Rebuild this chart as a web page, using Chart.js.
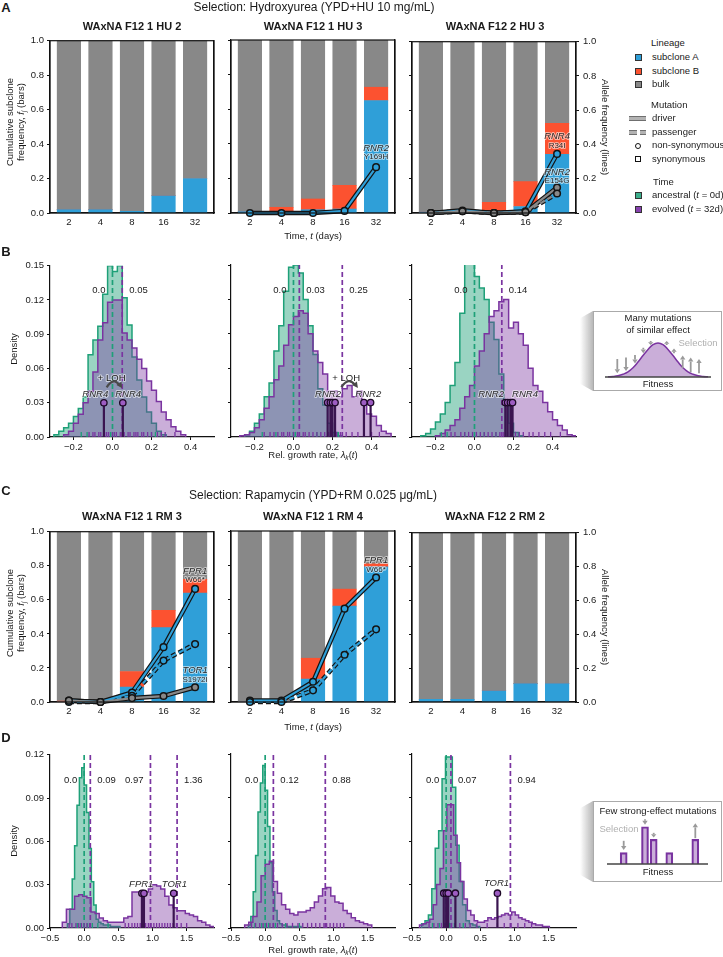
<!DOCTYPE html>
<html>
<head>
<meta charset="utf-8">
<title>Subclone dynamics under selection</title>
<script src="https://cdn.jsdelivr.net/npm/chart.js@4.4.1/dist/chart.umd.min.js"></script>
<style>
  body { margin: 0; background: #fff; }
  #page { position: relative; width: 723px; height: 957px; overflow: hidden; font-family: "Liberation Sans", Arial, Helvetica, sans-serif; color: #1a1a1a; }
  #page canvas { position: absolute; }
  .txt { position: absolute; white-space: nowrap; line-height: 1.2; text-align: center; }
  .txt sub { font-size: 70%; vertical-align: -0.3em; line-height: 0; }
  .sw { position: absolute; box-sizing: border-box; }
</style>
</head>
<body>
<div id="page"></div>
<script>
// ---- tick labels ----
const days = ['2', '4', '8', '16', '32'];
const fracTicks = [0, 0.2, 0.4, 0.6, 0.8, 1.0];
const growthTicksB = [-0.2, 0, 0.2, 0.4];
const growthTicksD = [-0.5, 0, 0.5, 1.0, 1.5];
const densTicksB = [0, 0.03, 0.06, 0.09, 0.12, 0.15];
const densTicksD = [0, 0.03, 0.06, 0.09, 0.12];

// ---- A: hydroxyurea, subclone frequencies (bars) and allele frequencies (lines) ----
const hu12A = [0.02, 0.02, 0.01, 0.10, 0.20];
const hu12B = [0, 0, 0, 0, 0];
const hu12Bulk = [0.98, 0.98, 0.99, 0.90, 0.80];

const hu13A = [0.008, 0.01, 0.019, 0.023, 0.65];
const hu13B = [0, 0.023, 0.062, 0.137, 0.077];
const hu13Bulk = [0.992, 0.967, 0.919, 0.84, 0.273];
const hu13Rnr2 = [0, 0, 0, 0.012, 0.265];

const hu23A = [0.005, 0.01, 0.01, 0.038, 0.342];
const hu23B = [0, 0, 0.052, 0.145, 0.181];
const hu23Bulk = [0.995, 0.99, 0.938, 0.817, 0.477];
const hu23Rnr4 = [0, 0.015, 0, 0.01, 0.345];
const hu23Rnr2 = [0, 0.01, 0, 0.005, 0.149];
const hu23Pass = [0, 0.01, 0, 0.005, 0.114];

// ---- C: rapamycin ----
const rm13A = [0, 0, 0.087, 0.437, 0.639];
const rm13B = [0.006, 0, 0.092, 0.101, 0.081];
const rm13Bulk = [0.994, 1, 0.821, 0.462, 0.28];
const rm13Fpr1 = [0.008, 0, 0.056, 0.322, 0.664];
const rm13Pass = [0, 0, 0.037, 0.243, 0.34];
const rm13Tor1 = [0.008, 0, 0.023, 0.035, 0.087];

const rm14A = [0, 0, 0.134, 0.561, 0.79];
const rm14B = [0, 0, 0.122, 0.099, 0.018];
const rm14Bulk = [1, 1, 0.744, 0.34, 0.192];
const rm14Fpr1 = [0.008, 0.008, 0.118, 0.546, 0.728];
const rm14Pass = [0, 0, 0.068, 0.276, 0.425];

const rm22A = [0.016, 0.016, 0.066, 0.109, 0.109];
const rm22B = [0, 0, 0, 0, 0];
const rm22Bulk = [0.984, 0.984, 0.934, 0.891, 0.891];

// ---- B: growth-rate histograms (density per bin), hydroxyurea ----
const hu12AncStart = -0.30;
const hu12Anc = [0.002, 0.005, 0.008, 0.012, 0.018, 0.025, 0.035, 0.072, 0.085, 0.097, 0.125, 0.15, 0.145, 0.15, 0.122, 0.098, 0.07, 0.05, 0.035, 0.022, 0.012, 0.005, 0.002];
const hu12EvoStart = -0.25;
const hu12Evo = [0.002, 0.005, 0.012, 0.02, 0.03, 0.04, 0.057, 0.085, 0.1, 0.118, 0.12, 0.12, 0.091, 0.085, 0.078, 0.068, 0.06, 0.049, 0.041, 0.031, 0.022, 0.015, 0.009, 0.005, 0.002];
const hu13AncStart = -0.25;
const hu13Anc = [0.002, 0.005, 0.012, 0.02, 0.035, 0.047, 0.075, 0.097, 0.127, 0.148, 0.15, 0.143, 0.12, 0.097, 0.072, 0.042, 0.028, 0.012, 0.004, 0.001];
const hu13EvoStart = -0.275;
const hu13Evo = [0.001, 0.002, 0.004, 0.008, 0.015, 0.025, 0.035, 0.05, 0.062, 0.08, 0.098, 0.105, 0.11, 0.108, 0.09, 0.075, 0.065, 0.055, 0.04, 0.04, 0.035, 0.042, 0.045, 0.035, 0.04, 0.03, 0.02, 0.018, 0.01, 0.005, 0.003];
const hu23AncStart = -0.275;
const hu23Anc = [0.001, 0.003, 0.007, 0.013, 0.02, 0.03, 0.045, 0.065, 0.108, 0.16, 0.158, 0.14, 0.13, 0.12, 0.10, 0.085, 0.055, 0.032, 0.012, 0.004, 0.001];
const hu23EvoStart = -0.20;
const hu23Evo = [0.001, 0.003, 0.006, 0.01, 0.015, 0.025, 0.035, 0.045, 0.062, 0.075, 0.09, 0.105, 0.11, 0.118, 0.12, 0.095, 0.1, 0.09, 0.08, 0.06, 0.045, 0.04, 0.03, 0.022, 0.015, 0.01, 0.006, 0.002, 0.001];

// ---- D: growth-rate histograms, rapamycin ----
const rm13AncStart = -0.245;
const rm13Anc = [0.003, 0.013, 0.034, 0.057, 0.085, 0.104, 0.111, 0.099, 0.08, 0.055, 0.032, 0.016, 0.006, 0.004, 0.003, 0.002, 0.002, 0.002, 0.001, 0.001, 0.001, 0.001];
const rm13EvoStart = -0.32;
const rm13Evo = [0.004, 0.013, 0.013, 0.022, 0.023, 0.022, 0.021, 0.011, 0.01, 0.007, 0.005, 0.004, 0.004, 0.004, 0.004, 0.007, 0.008, 0.025, 0.025, 0.024, 0.025, 0.027, 0.03, 0.029, 0.027, 0.022, 0.016, 0.014, 0.012, 0.012, 0.01, 0.009, 0.008, 0.005, 0.004, 0.002, 0.001];
const rm14AncStart = -0.245;
const rm14Anc = [0.002, 0.008, 0.025, 0.05, 0.08, 0.1, 0.112, 0.095, 0.07, 0.045, 0.025, 0.012, 0.005, 0.003, 0.002, 0.002, 0.001, 0.001, 0.001, 0.001, 0.001, 0.001];
const rm14EvoStart = -0.30;
const rm14Evo = [0.002, 0.004, 0.008, 0.018, 0.036, 0.044, 0.046, 0.032, 0.024, 0.016, 0.013, 0.01, 0.009, 0.011, 0.011, 0.012, 0.014, 0.018, 0.022, 0.027, 0.028, 0.022, 0.018, 0.017, 0.012, 0.01, 0.007, 0.005, 0.004, 0.003, 0.002];
const rm22AncStart = -0.36;
const rm22Anc = [0.003, 0.005, 0.009, 0.027, 0.055, 0.067, 0.103, 0.118, 0.118, 0.097, 0.057, 0.032, 0.016, 0.005, 0.003, 0.002, 0.001];
const rm22EvoStart = -0.39;
const rm22Evo = [0.002, 0.003, 0.004, 0.006, 0.016, 0.03, 0.041, 0.067, 0.085, 0.085, 0.064, 0.045, 0.032, 0.02, 0.012, 0.009, 0.005, 0.004, 0.004, 0.005, 0.007, 0.006, 0.007, 0.008, 0.009, 0.01, 0.009, 0.011, 0.009, 0.007, 0.006, 0.005, 0.004, 0.003, 0.002, 0.002, 0.001, 0.001];

// mean growth rates (first = ancestral)
const hu12Means = [0.0, 0.05];
const hu13Means = [0.0, 0.03, 0.25];
const hu23Means = [0.0, 0.14];
const rm13Means = [0.0, 0.09, 0.97, 1.36];
const rm14Means = [0.0, 0.12, 0.88];
const rm22Means = [0.0, 0.07, 0.94];

// clones carrying driver mutations
const hu12Stems = [-0.044, 0.053];
const hu13Stems = [0.175, 0.189, 0.2, 0.213, 0.361, 0.395];
const hu23Stems = [0.158, 0.17, 0.184, 0.195];
const rm13Stems = [0.845, 0.875, 1.31];
const rm22Stems = [-0.035, 0.0, 0.03, 0.135, 0.75];

// rug marks (individual clones)
const hu12RugAnc = [-0.16, -0.13, -0.01, 0.2, 0.22];
const hu12RugEvo = [-0.12, -0.1, -0.09, -0.07, -0.06, -0.04, -0.03, -0.02, 0.0, 0.01, 0.02, 0.04, 0.05, 0.06, 0.08, 0.09, 0.11, 0.12, 0.13, 0.15, 0.16, 0.18, 0.2, 0.23, 0.25, 0.27, 0.32];
const hu13RugAnc = [-0.16, -0.09, 0.0, 0.01, 0.12, 0.2, 0.23];
const hu13RugEvo = [-0.15, -0.12, -0.1, -0.08, -0.06, -0.05, -0.03, -0.02, 0, 0.02, 0.03, 0.05, 0.06, 0.08, 0.1, 0.12, 0.14, 0.16, 0.18, 0.2, 0.22, 0.24, 0.27, 0.3, 0.33, 0.36, 0.4, 0.44];
const hu23RugAnc = [-0.17, -0.14, -0.05, 0.05, 0.11, 0.21];
const hu23RugEvo = [-0.15, -0.12, -0.1, -0.07, -0.05, -0.03, -0.01, 0.01, 0.03, 0.05, 0.07, 0.09, 0.11, 0.13, 0.15, 0.17, 0.19, 0.21, 0.23, 0.25, 0.28, 0.3, 0.33, 0.36, 0.39, 0.44];
const rm13RugAnc = [-0.1, -0.05, 0.0, 0.05, 0.12, 0.2, 0.35];
const rm13RugEvo = [-0.22, -0.18, -0.12, -0.08, -0.04, 0.0, 0.04, 0.08, 0.6, 0.65, 0.7, 0.74, 0.78, 0.82, 0.86, 0.9, 0.94, 0.98, 1.02, 1.06, 1.1, 1.14, 1.18, 1.22, 1.26, 1.3, 1.35, 1.42, 1.5];
const rm14RugAnc = [-0.15, -0.05, 0.05, 0.15, 0.3, 0.5];
const rm14RugEvo = [-0.2, -0.14, -0.08, -0.03, 0.02, 0.07, 0.12, 0.18, 0.25, 0.32, 0.4, 0.48, 0.55, 0.62, 0.68, 0.74, 0.8, 0.86, 0.9, 0.95, 1.0, 1.05, 1.1, 1.15];
const rm22RugAnc = [-0.2, -0.1, -0.03, 0.05, 0.12, 0.25];
const rm22RugEvo = [-0.25, -0.18, -0.12, -0.07, -0.02, 0.03, 0.08, 0.13, 0.2, 0.28, 0.35, 0.45, 0.6, 0.75, 0.85, 0.95, 1.05, 1.15, 1.25];

// insets (schematics)
const manyX = [0, 0.05, 0.1, 0.15, 0.2, 0.25, 0.3, 0.35, 0.4, 0.45, 0.5, 0.55, 0.6, 0.65, 0.7, 0.75, 0.8, 0.85, 0.9, 0.95, 1.0];
const manyY = [0.005, 0.015, 0.036, 0.08, 0.15, 0.27, 0.44, 0.63, 0.81, 0.95, 1.0, 0.95, 0.81, 0.63, 0.44, 0.27, 0.15, 0.08, 0.036, 0.015, 0.005];
const manyArrowX = [0.093, 0.18, 0.27, 0.353, 0.427, 0.587, 0.66, 0.747, 0.827, 0.91];
const manyArrowFrom = [0.53, 0.57, 0.65, 0.86, 1.06, 0.94, 0.70, 0.26, 0.14, 0.11];
const manyArrowTo = [0.11, 0.18, 0.40, 0.70, 0.94, 1.06, 0.84, 0.63, 0.57, 0.53];
const fewX = [0.157, 0.37, 0.457, 0.613, 0.873];
const fewH = [0.3, 0.98, 0.65, 0.3, 0.65];
const fewArrowX = [0.157, 0.37, 0.457, 0.873];
const fewArrowFrom = [0.61, 1.18, 0.82, 0.68];
const fewArrowTo = [0.37, 1.03, 0.70, 1.07];

// ---- styling ----
const page = document.getElementById('page');
const FONT = '"Liberation Sans", Arial, Helvetica, sans-serif';
Chart.defaults.font.family = FONT;
Chart.defaults.font.size = 9.5;
Chart.defaults.color = '#1a1a1a';

const C_A = '#2f9fd8', C_B = '#fc5230', C_BULK = '#888888';
const C_ANC = 'rgb(30,160,120)', F_ANC = 'rgba(30,160,120,0.45)';
const C_EVO = 'rgb(122,52,160)', F_EVO = 'rgba(122,52,160,0.4)';
const C_STEM = '#3a1450', C_HEAD = '#9d5cc2';

const M = {l: 45, r: 35, t: 8, b: 22};
const PW = 164;
const cols = [50, 231, 412];

function canvasAt(x, y, w, h) {
    const cv = document.createElement('canvas');
    cv.width = w + M.l + M.r;
    cv.height = h + M.t + M.b;
    cv.style.left = (x - M.l) + 'px';
    cv.style.top = (y - M.t) + 'px';
    page.appendChild(cv);
    return cv;
}

function plainCanvas(x, y, w, h) {
    const cv = document.createElement('canvas');
    cv.width = w;
    cv.height = h;
    cv.style.left = x + 'px';
    cv.style.top = y + 'px';
    page.appendChild(cv);
    return cv;
}

const fixedTicks = values => scale => { scale.ticks = values.map(v => ({value: v})); };
const signed = v => (v < 0 ? '\u2212' : '') + Math.abs(v).toFixed(1);
const border = {display: true, color: '#111', width: 1.2};
const tickGrid = show => ({display: true, drawOnChartArea: false, drawTicks: show, tickLength: 3, color: '#111', lineWidth: 1});

function notesPlugin(items, yAxis) {
    return {
        id: 'notes',
        afterDatasetsDraw(chart) {
            const ctx = chart.ctx, xs = chart.scales.x, ys = chart.scales[yAxis || 'y'];
            items.forEach(n => {
                const px = xs.getPixelForValue(n.x) + (n.dx || 0);
                const py = ys.getPixelForValue(n.y);
                ctx.save();
                ctx.font = n.font || `9.5px ${FONT}`;
                ctx.textAlign = n.align || 'center';
                ctx.textBaseline = 'middle';
                if (n.halo) {
                    ctx.lineJoin = 'round';
                    ctx.lineWidth = 2;
                    ctx.strokeStyle = 'rgba(255,255,255,0.55)';
                    ctx.strokeText(n.text, px, py);
                }
                ctx.fillStyle = n.color || '#1a1a1a';
                ctx.fillText(n.text, px, py);
                ctx.restore();
            });
        }
    };
}

function loopPlugin(list) {
    return {
        id: 'loh',
        afterDatasetsDraw(chart) {
            const {ctx, scales: {x, y}} = chart;
            list.forEach(a => {
                const x1 = x.getPixelForValue(a.x1), x2 = x.getPixelForValue(a.x2), py = y.getPixelForValue(a.y);
                const cx = (x1 + x2) / 2, cy = py - 11;
                ctx.save();
                ctx.strokeStyle = '#4a4a4a';
                ctx.fillStyle = '#4a4a4a';
                ctx.lineWidth = 2.2;
                ctx.beginPath();
                ctx.moveTo(x1, py);
                ctx.quadraticCurveTo(cx, cy, x2 - 2, py - 2);
                ctx.stroke();
                const ang = Math.atan2(py - cy, x2 - cx);
                const tx = x2 + 1, ty = py + 1;
                ctx.beginPath();
                ctx.moveTo(tx, ty);
                ctx.lineTo(tx - 6 * Math.cos(ang) + 3 * Math.sin(ang), ty - 6 * Math.sin(ang) - 3 * Math.cos(ang));
                ctx.lineTo(tx - 6 * Math.cos(ang) - 3 * Math.sin(ang), ty - 6 * Math.sin(ang) + 3 * Math.cos(ang));
                ctx.closePath();
                ctx.fill();
                ctx.restore();
            });
        }
    };
}

function arrowsPlugin(xs, from, to) {
    return {
        id: 'arrows',
        afterDatasetsDraw(chart) {
            const {ctx, scales: {x, y}} = chart;
            ctx.save();
            ctx.strokeStyle = '#9a9a9a';
            ctx.fillStyle = '#9a9a9a';
            ctx.lineWidth = 1.8;
            xs.forEach((v, i) => {
                const px = x.getPixelForValue(v), y1 = y.getPixelForValue(from[i]), y2 = y.getPixelForValue(to[i]);
                const dir = Math.sign(y2 - y1);
                const head = Math.min(4, Math.abs(y2 - y1) * 0.7);
                ctx.beginPath();
                ctx.moveTo(px, y1);
                ctx.lineTo(px, y2 - dir * head);
                ctx.stroke();
                ctx.beginPath();
                ctx.moveTo(px - 2.7, y2 - dir * head);
                ctx.lineTo(px + 2.7, y2 - dir * head);
                ctx.lineTo(px, y2);
                ctx.closePath();
                ctx.fill();
            });
            ctx.restore();
        }
    };
}

const framePlugin = {
    id: 'frame',
    afterDraw(chart) {
        const {ctx, chartArea: a} = chart;
        ctx.save();
        ctx.strokeStyle = '#111';
        ctx.lineWidth = 1.2;
        ctx.strokeRect(a.left, a.top, a.right - a.left, a.bottom - a.top);
        ctx.restore();
    }
};

const gene = (x, y, t) => ({x, y, text: t, font: `italic 9.5px ${FONT}`, color: '#2a2a2a', halo: true});
const change = (x, y, t) => ({x, y, text: t, font: `8px ${FONT}`, color: '#2a2a2a', halo: true});

// ---- bar panels (A, C) ----
function barPanel(o) {
    const cv = canvasAt(o.x, o.y, PW, o.h);
    const xy = vals => vals.map((v, i) => ({x: i, y: v}));
    const bar = (label, vals, color) => ({
        type: 'bar', label, data: xy(vals), backgroundColor: color, borderWidth: 0,
        barThickness: 23.5, stack: 'f', yAxisID: 'y', order: 10
    });
    const datasets = [bar('subclone A', o.a, C_A), bar('subclone B', o.b, C_B), bar('bulk', o.bulk, C_BULK)];
    o.muts.forEach(m => {
        const dash = m.passenger ? [5, 3] : [];
        datasets.push({type: 'line', data: xy(m.v), yAxisID: 'y2', borderColor: '#141414', borderWidth: 4.6,
            borderDash: dash, pointRadius: 0, clip: false, order: 6});
        datasets.push({type: 'line', data: xy(m.v), yAxisID: 'y2', borderColor: m.color, borderWidth: 2.2,
            borderDash: dash, pointRadius: 3.3, pointBorderWidth: 1.5, pointBorderColor: '#141414',
            pointBackgroundColor: m.color, clip: false, order: 5});
    });
    new Chart(cv, {
        type: 'bar',
        data: {datasets},
        options: {
            responsive: false, animation: false, events: [],
            layout: {padding: {top: M.t}},
            plugins: {legend: {display: false}, tooltip: {enabled: false}},
            scales: {
                x: {type: 'linear', min: -0.6, max: 4.6, offset: false, stacked: true, border,
                    grid: {display: true, drawOnChartArea: false, drawTicks: false, offset: false},
                    ticks: {padding: 4, callback: v => days[v]},
                    afterBuildTicks: fixedTicks(days.map((d, i) => i)),
                    afterFit: s => { s.height = M.b; }},
                y: {type: 'linear', position: 'left', min: 0, max: 1, stacked: true, border, grid: tickGrid(true),
                    ticks: {display: o.left, padding: 3, callback: v => v.toFixed(1)},
                    afterBuildTicks: fixedTicks(fracTicks),
                    afterFit: s => { s.width = M.l; }},
                y2: {type: 'linear', position: 'right', min: 0, max: 1, border, grid: tickGrid(o.right),
                    ticks: {display: o.right, padding: 4, callback: v => v.toFixed(1)},
                    afterBuildTicks: fixedTicks(fracTicks),
                    afterFit: s => { s.width = M.r; }}
            }
        },
        plugins: [framePlugin, notesPlugin(o.notes || [], 'y2')]
    });
}

// ---- histogram panels (B, D) ----
function steps(start, bin, heights) {
    const pts = [{x: start, y: 0}];
    heights.forEach((h, i) => pts.push({x: start + i * bin, y: h}));
    pts.push({x: start + heights.length * bin, y: 0});
    return pts;
}

function histPanel(o) {
    const cv = canvasAt(o.x, o.y, PW, o.h);
    const ds = [];
    ds.push({data: steps(o.ancStart, o.ancBin, o.anc), stepped: true, borderColor: C_ANC, backgroundColor: F_ANC,
        fill: 'origin', borderWidth: 1.5, pointRadius: 0, order: 10});
    ds.push({data: steps(o.evoStart, o.evoBin, o.evo), stepped: true, borderColor: C_EVO, backgroundColor: F_EVO,
        fill: 'origin', borderWidth: 1.5, pointRadius: 0, order: 9});
    o.means.forEach((m, i) => ds.push({data: [{x: m, y: 0}, {x: m, y: o.ymax}], borderColor: i === 0 ? C_ANC : C_EVO,
        borderDash: [5, 3], borderWidth: 1.7, pointRadius: 0, order: 6}));
    const rugY = o.ymax * 2.5 / o.h;
    ds.push({data: o.rugAnc.map(v => ({x: v, y: rugY})), showLine: false, pointStyle: 'line', rotation: 90,
        pointRadius: 2.6, pointBorderColor: C_ANC, pointBorderWidth: 1.3, order: 5});
    ds.push({data: o.rugEvo.map(v => ({x: v, y: rugY})), showLine: false, pointStyle: 'line', rotation: 90,
        pointRadius: 2.6, pointBorderColor: C_EVO, pointBorderWidth: 1.3, order: 4});
    if (o.stems.length) {
        const seg = [];
        o.stems.forEach(s => seg.push({x: s, y: 0}, {x: s, y: o.stemH}, {x: s, y: null}));
        ds.push({data: seg, borderColor: C_STEM, borderWidth: 2.2, pointRadius: 0, spanGaps: false, order: 3});
        ds.push({data: o.stems.map(s => ({x: s, y: o.stemH})), showLine: false, pointRadius: 3.2,
            pointBackgroundColor: C_HEAD, pointBorderColor: '#1c0826', pointBorderWidth: 1.3, order: 2});
    }
    const notes = o.means.map((m, i) => ({
        x: m, y: o.labelY, text: m === 0 ? '0.0' : String(m),
        align: o.sides[i] === 'l' ? 'right' : 'left', dx: o.sides[i] === 'l' ? -7 : 7
    })).concat(o.notes || []);
    new Chart(cv, {
        type: 'line',
        data: {datasets: ds},
        options: {
            responsive: false, animation: false, events: [],
            layout: {padding: {top: M.t, right: M.r}},
            plugins: {legend: {display: false}, tooltip: {enabled: false}},
            scales: {
                x: {type: 'linear', min: o.xmin, max: o.xmax, border, grid: tickGrid(true),
                    ticks: {padding: 2, callback: v => signed(v)},
                    afterBuildTicks: fixedTicks(o.xticks),
                    afterFit: s => { s.height = M.b; }},
                y: {type: 'linear', min: 0, max: o.ymax, border, grid: tickGrid(true),
                    ticks: {display: o.left, padding: 3, callback: v => v.toFixed(2)},
                    afterBuildTicks: fixedTicks(o.yticks),
                    afterFit: s => { s.width = M.l; }}
            }
        },
        plugins: [notesPlugin(notes), loopPlugin(o.loops || [])]
    });
}

// ---- HTML text and legend helpers ----
function text(html, x, y, size, opts = {}) {
    const d = document.createElement('div');
    d.className = 'txt';
    d.innerHTML = html;
    d.style.left = x + 'px';
    d.style.top = y + 'px';
    d.style.fontSize = size + 'px';
    if (opts.bold) d.style.fontWeight = 'bold';
    if (opts.color) d.style.color = opts.color;
    const anchor = opts.left ? 'translate(0,-50%)' : 'translate(-50%,-50%)';
    d.style.transform = anchor + (opts.rot ? ` rotate(${opts.rot}deg)` : '');
    page.appendChild(d);
}

function box(x, y, w, h, css) {
    const d = document.createElement('div');
    d.className = 'sw';
    d.style.cssText = `left:${x}px;top:${y}px;width:${w}px;height:${h}px;${css}`;
    page.appendChild(d);
}

// ---- row A ----
const rowA = 40, hA = 173;
barPanel({x: cols[0], y: rowA, h: hA, a: hu12A, b: hu12B, bulk: hu12Bulk, muts: [], left: true, right: false});
barPanel({x: cols[1], y: rowA, h: hA, a: hu13A, b: hu13B, bulk: hu13Bulk, left: false, right: false,
    muts: [{v: hu13Rnr2, color: C_A}],
    notes: [gene(4, 0.374, 'RNR2'), change(4, 0.325, 'Y169H')]});
barPanel({x: cols[2], y: rowA, h: hA, a: hu23A, b: hu23B, bulk: hu23Bulk, left: false, right: true,
    muts: [{v: hu23Pass, color: C_BULK, passenger: true}, {v: hu23Rnr2, color: C_BULK}, {v: hu23Rnr4, color: C_A}],
    notes: [gene(4, 0.45, 'RNR4'), change(4, 0.395, 'R34I'), gene(4, 0.24, 'RNR2'), change(4, 0.187, 'E154G')]});

// ---- row B ----
const rowB = 265, hB = 172;
const histB = {h: hB, xmin: -0.32, xmax: 0.52, xticks: growthTicksB, ymax: 0.15, yticks: densTicksB,
    ancBin: 0.025, evoBin: 0.025, stemH: 0.03, labelY: 0.128};
histPanel(Object.assign({}, histB, {x: cols[0], y: rowB, left: true,
    ancStart: hu12AncStart, anc: hu12Anc, evoStart: hu12EvoStart, evo: hu12Evo,
    means: hu12Means, sides: ['l', 'r'], stems: hu12Stems, rugAnc: hu12RugAnc, rugEvo: hu12RugEvo,
    notes: [gene(-0.088, 0.0376, 'RNR4'), gene(0.08, 0.0376, 'RNR4'), {x: -0.004, y: 0.0515, text: '+ LOH', halo: true}],
    loops: [{x1: -0.03, x2: 0.045, y: 0.0435}]}));
histPanel(Object.assign({}, histB, {x: cols[1], y: rowB, left: false,
    ancStart: hu13AncStart, anc: hu13Anc, evoStart: hu13EvoStart, evo: hu13Evo,
    means: hu13Means, sides: ['l', 'r', 'r'], stems: hu13Stems, rugAnc: hu13RugAnc, rugEvo: hu13RugEvo,
    notes: [gene(0.177, 0.0376, 'RNR2'), gene(0.383, 0.0376, 'RNR2'), {x: 0.27, y: 0.0515, text: '+ LOH', halo: true}],
    loops: [{x1: 0.245, x2: 0.325, y: 0.0435}]}));
histPanel(Object.assign({}, histB, {x: cols[2], y: rowB, left: false,
    ancStart: hu23AncStart, anc: hu23Anc, evoStart: hu23EvoStart, evo: hu23Evo,
    means: hu23Means, sides: ['l', 'r'], stems: hu23Stems, rugAnc: hu23RugAnc, rugEvo: hu23RugEvo,
    notes: [gene(0.085, 0.0376, 'RNR2'), gene(0.259, 0.0376, 'RNR4')]}));

// ---- row C ----
const rowC = 531, hC = 171;
barPanel({x: cols[0], y: rowC, h: hC, a: rm13A, b: rm13B, bulk: rm13Bulk, left: true, right: false,
    muts: [{v: rm13Tor1, color: C_BULK}, {v: rm13Pass, color: C_A, passenger: true}, {v: rm13Fpr1, color: C_A}],
    notes: [gene(4, 0.77, 'FPR1'), change(4, 0.715, 'W66*'), gene(4, 0.187, 'TOR1'), change(4, 0.13, 'S1972I')]});
barPanel({x: cols[1], y: rowC, h: hC, a: rm14A, b: rm14B, bulk: rm14Bulk, left: false, right: false,
    muts: [{v: rm14Pass, color: C_A, passenger: true}, {v: rm14Fpr1, color: C_A}],
    notes: [gene(4, 0.83, 'FPR1'), change(4, 0.775, 'W66*')]});
barPanel({x: cols[2], y: rowC, h: hC, a: rm22A, b: rm22B, bulk: rm22Bulk, muts: [], left: false, right: true});

// ---- row D ----
const rowD = 754, hD = 174;
const histD = {h: hD, xmin: -0.5, xmax: 1.9, xticks: growthTicksD, ymax: 0.12, yticks: densTicksD,
    stemH: 0.024, labelY: 0.102};
histPanel(Object.assign({}, histD, {x: cols[0], y: rowD, left: true,
    ancStart: rm13AncStart, ancBin: 0.035, anc: rm13Anc, evoStart: rm13EvoStart, evoBin: 0.06, evo: rm13Evo,
    means: rm13Means, sides: ['l', 'r', 'l', 'r'], stems: rm13Stems, rugAnc: rm13RugAnc, rugEvo: rm13RugEvo,
    notes: [gene(0.835, 0.030, 'FPR1'), gene(1.32, 0.030, 'TOR1')]}));
histPanel(Object.assign({}, histD, {x: cols[1], y: rowD, left: false,
    ancStart: rm14AncStart, ancBin: 0.035, anc: rm14Anc, evoStart: rm14EvoStart, evoBin: 0.06, evo: rm14Evo,
    means: rm14Means, sides: ['l', 'r', 'r'], stems: [], rugAnc: rm14RugAnc, rugEvo: rm14RugEvo}));
histPanel(Object.assign({}, histD, {x: cols[2], y: rowD, left: false,
    ancStart: rm22AncStart, ancBin: 0.05, anc: rm22Anc, evoStart: rm22EvoStart, evoBin: 0.05, evo: rm22Evo,
    means: rm22Means, sides: ['l', 'r', 'r'], stems: rm22Stems, rugAnc: rm22RugAnc, rugEvo: rm22RugEvo,
    notes: [gene(0.737, 0.0305, 'TOR1')]}));

// ---- insets ----
function insetFrame(x, y, w, h) {
    box(x - 13, y, 13, h, 'background:linear-gradient(to right, rgba(200,200,200,0), #b8b8b8);clip-path:polygon(0 9%,100% 0,100% 100%,0 91%);');
    box(x, y, w, h, 'border:1.5px solid #aaa;background:#fff;');
}
const insetOpts = (pad) => ({
    responsive: false, animation: false, events: [],
    layout: {padding: pad},
    plugins: {legend: {display: false}, tooltip: {enabled: false}},
    scales: {x: {type: 'linear', min: 0, max: 1, offset: false, display: false}, y: {min: 0, max: 1, display: false}}
});

insetFrame(593, 311, 129, 80);
new Chart(plainCanvas(593, 311, 129, 80), {
    type: 'line',
    data: {datasets: [
        {data: manyX.map((x, i) => ({x, y: manyY[i]})), borderColor: C_EVO, backgroundColor: F_EVO, fill: 'origin',
            borderWidth: 1.5, pointRadius: 0, tension: 0.4, clip: false, order: 2},
        {data: [{x: -0.03, y: 0}, {x: 1.03, y: 0}], borderColor: '#444', borderWidth: 1.5, pointRadius: 0, clip: false, order: 1}
    ]},
    options: insetOpts({left: 15, right: 14, top: 32, bottom: 14}),
    plugins: [arrowsPlugin(manyArrowX, manyArrowFrom, manyArrowTo), notesPlugin([
        {x: 0.5, y: 1.72, text: 'Many mutations'},
        {x: 0.5, y: 1.36, text: 'of similar effect'},
        {x: 0.9, y: 0.98, text: 'Selection', color: '#b0b0b0'},
        {x: 0.5, y: -0.22, text: 'Fitness'}
    ])]
});

insetFrame(593, 801, 129, 81);
new Chart(plainCanvas(593, 801, 129, 81), {
    type: 'bar',
    data: {datasets: [
        {type: 'bar', data: fewX.map((x, i) => ({x, y: fewH[i]})), backgroundColor: F_EVO, borderColor: C_EVO,
            borderWidth: 1.5, barThickness: 7, order: 2},
        {type: 'line', data: [{x: -0.01, y: 0}, {x: 1.0, y: 0}], borderColor: '#444', borderWidth: 1.5, pointRadius: 0, clip: false, order: 1}
    ]},
    options: insetOpts({left: 15, right: 14, top: 25, bottom: 18}),
    plugins: [arrowsPlugin(fewArrowX, fewArrowFrom, fewArrowTo), notesPlugin([
        {x: 0.5, y: 1.38, text: 'Few strong-effect mutations'},
        {x: 0.11, y: 0.9, text: 'Selection', color: '#b0b0b0'},
        {x: 0.5, y: -0.21, text: 'Fitness'}
    ])]
});

// ---- titles and axis labels ----
text('A', 6, 8, 13, {bold: true});
text('Selection: Hydroxyurea (YPD+HU 10 mg/mL)', 314, 7, 12);
text('WAxNA F12 1 HU 2', 132, 27, 11, {bold: true});
text('WAxNA F12 1 HU 3', 313, 27, 11, {bold: true});
text('WAxNA F12 2 HU 3', 495, 27, 11, {bold: true});
text('Cumulative subclone<br>frequency, <i>f<sub>j</sub></i> (bars)', 15, 122, 9.5, {rot: -90});
text('Allele frequency (lines)', 605, 127, 9.5, {rot: 90});
text('Time, <i>t</i> (days)', 313, 236, 9.5);

text('B', 6, 252, 13, {bold: true});
text('Density', 14, 349, 9.5, {rot: -90});
text('Rel. growth rate, <i>\u03bb<sub>k</sub></i>(<i>t</i>)', 313, 455, 9.5);

text('C', 6, 491, 13, {bold: true});
text('Selection: Rapamycin (YPD+RM 0.025 \u03bcg/mL)', 313, 495, 12);
text('WAxNA F12 1 RM 3', 132, 517, 11, {bold: true});
text('WAxNA F12 1 RM 4', 313, 517, 11, {bold: true});
text('WAxNA F12 2 RM 2', 495, 517, 11, {bold: true});
text('Cumulative subclone<br>frequency, <i>f<sub>j</sub></i> (bars)', 15, 613, 9.5, {rot: -90});
text('Allele frequency (lines)', 605, 617, 9.5, {rot: 90});
text('Time, <i>t</i> (days)', 313, 727, 9.5);

text('D', 6, 738, 13, {bold: true});
text('Density', 14, 841, 9.5, {rot: -90});
text('Rel. growth rate, <i>\u03bb<sub>k</sub></i>(<i>t</i>)', 313, 950, 9.5);

// ---- legend ----
text('Lineage', 651, 43, 9.5, {left: true});
[['subclone A', C_A, 57], ['subclone B', C_B, 71], ['bulk', C_BULK, 84]].forEach(([t, c, yy]) => {
    box(635, yy - 3.5, 7, 7, `background:${c};border:1px solid #333;`);
    text(t, 652, yy, 9.5, {left: true});
});
text('Mutation', 651, 105, 9.5, {left: true});
const lineSw = 'border-top:1.5px solid #6f6f6f;border-bottom:1.5px solid #6f6f6f;background:#b3b3b3;';
box(629, 116, 17, 5, lineSw);
text('driver', 652, 118, 9.5, {left: true});
box(629, 130, 8, 5, lineSw);
box(640, 130, 6, 5, lineSw);
text('passenger', 652, 132, 9.5, {left: true});
box(634.5, 142.5, 6.5, 6.5, 'border:1.6px solid #111;border-radius:50%;');
text('non-synonymous', 652, 145, 9.5, {left: true});
box(634.5, 156, 6, 6, 'border:1.5px solid #111;');
text('synonymous', 652, 159, 9.5, {left: true});
text('Time', 653, 182, 9.5, {left: true});
box(635, 191.5, 7, 7, 'background:rgb(60,175,140);border:1px solid #333;');
text('ancestral (<i>t</i> = 0d)', 652, 195, 9.5, {left: true});
box(635, 205.5, 7, 7, 'background:rgb(135,65,175);border:1px solid #333;');
text('evolved (<i>t</i> = 32d)', 652, 209, 9.5, {left: true});
</script>
</body>
</html>
